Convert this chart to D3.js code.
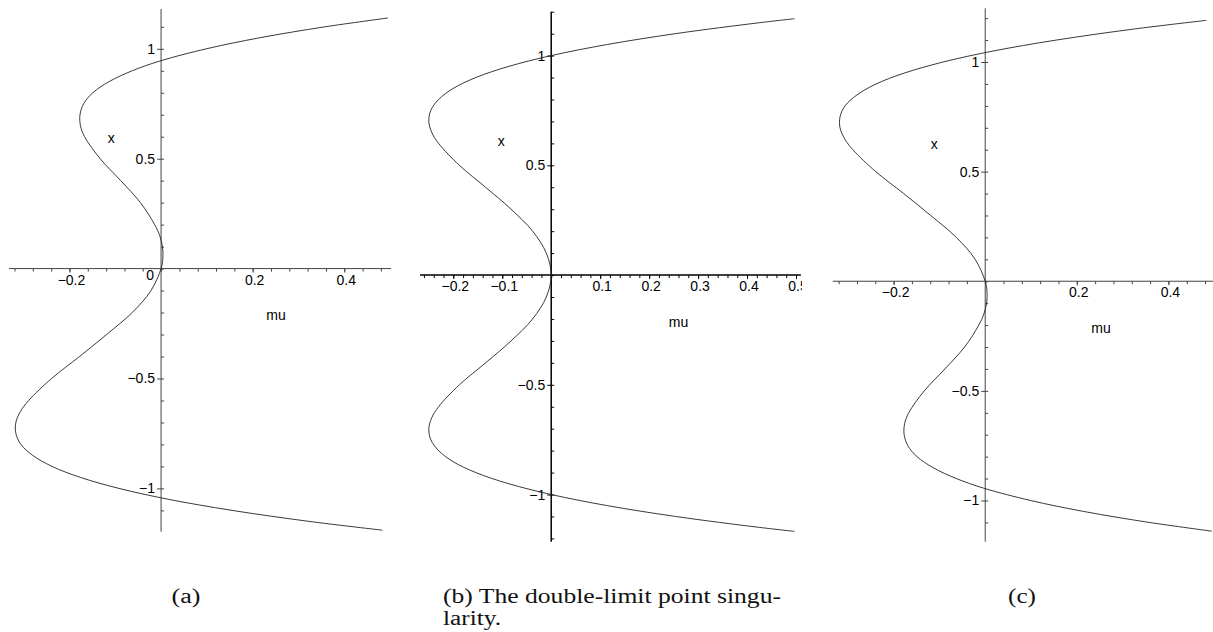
<!DOCTYPE html>
<html>
<head>
<meta charset="utf-8">
<script src="https://cdn.jsdelivr.net/npm/d3@7"></script>
<style>
  html, body { margin: 0; padding: 0; background: #fff; }
  svg { display: block; }
  .tick-label { font-family: "Liberation Sans", Arial, sans-serif; font-size: 14px; fill: #000; }
  .caption { font-family: "Liberation Serif", "Times New Roman", serif; font-size: 20px; fill: #111; }
</style>
</head>
<body>
<svg id="fig" width="1213" height="632"></svg>
<script>
// Branch of equilibria x against parameter mu, three unfoldings.
// (a) perturbed one way
const stateA = [-1.19, -1.15, -1.10, -1.05, -1.0, -0.95, -0.9, -0.85, -0.8, -0.75, -0.7, -0.65, -0.6, -0.5, -0.4, -0.3, -0.2, -0.1, 0, 0.05, 0.1, 0.15, 0.2, 0.3, 0.4, 0.5, 0.6, 0.65, 0.7, 0.75, 0.8, 0.85, 0.9, 0.944, 1.0, 1.05, 1.1, 1.14];
const muA    = [0.483, 0.323, 0.155, 0.017, -0.092, -0.176, -0.238, -0.280, -0.306, -0.317, -0.317, -0.307, -0.289, -0.239, -0.178, -0.119, -0.063, -0.022, 0, 0.004, 0.003, -0.003, -0.014, -0.045, -0.088, -0.133, -0.167, -0.176, -0.177, -0.169, -0.149, -0.114, -0.063, -0.003, 0.099, 0.215, 0.358, 0.495];

// (b) the double-limit point itself
const stateB = [-1.168, -1.15, -1.1, -1.05, -1.0, -0.95, -0.9, -0.85, -0.8, -0.75, -0.7, -0.65, -0.6, -0.5, -0.4, -0.3, -0.2, -0.1, 0, 0.1, 0.2, 0.3, 0.4, 0.5, 0.6, 0.65, 0.7, 0.75, 0.8, 0.85, 0.9, 0.95, 1.0, 1.05, 1.1, 1.15, 1.168];
const muB    = [0.497, 0.426, 0.254, 0.113, 0, -0.088, -0.154, -0.2005, -0.230, -0.246, -0.250, -0.244, -0.230, -0.1875, -0.134, -0.082, -0.038, -0.010, 0, -0.010, -0.038, -0.082, -0.134, -0.1875, -0.230, -0.244, -0.250, -0.246, -0.230, -0.2005, -0.154, -0.088, 0, 0.113, 0.254, 0.426, 0.497];

// (c) perturbed the other way
const stateC = [-1.14, -1.1, -1.05, -1.0, -0.944, -0.9, -0.85, -0.8, -0.75, -0.7, -0.65, -0.6, -0.5, -0.4, -0.3, -0.2, -0.15, -0.1, -0.05, 0, 0.1, 0.2, 0.3, 0.4, 0.5, 0.6, 0.65, 0.7, 0.75, 0.8, 0.85, 0.9, 0.95, 1.0, 1.05, 1.1, 1.15, 1.19];
const muC    = [0.495, 0.358, 0.215, 0.099, -0.003, -0.063, -0.114, -0.149, -0.169, -0.177, -0.176, -0.167, -0.133, -0.088, -0.045, -0.014, -0.003, 0.003, 0.004, 0, -0.022, -0.063, -0.119, -0.178, -0.239, -0.289, -0.307, -0.317, -0.317, -0.306, -0.280, -0.238, -0.176, -0.092, 0.017, 0.155, 0.323, 0.483];

// Tick labels
const muTicksA = [-0.2, 0.2, 0.4];
const muTicksB = [-0.2, -0.1, 0.1, 0.2, 0.3, 0.4, 0.5];
const muTicksC = [-0.2, 0.2, 0.4];
const xTicks   = [-1, -0.5, 0.5, 1];

const captionA = ["(a)"];
const captionB = ["(b) The double-limit point singu-", "larity."];
const captionC = ["(c)"];

const panels = [
  { state: stateA, mu: muA, muTicks: muTicksA, muDom: [-0.332, 0.502], muRange: [9, 391],
    xDom: [-1.197, 1.181], xRange: [531.7, 9], clip: [0, 402],
    minorMu: d3.range(-0.32, 0.50, 0.04), minorX: d3.range(-1.1, 1.15, 0.1),
    axisColor: "#444", axisWidth: 1, zeroLabel: true,
    xLabel: [-0.109, 0.594], muLabel: [0.251, -0.212] },
  { state: stateB, mu: muB, muTicks: muTicksB, muDom: [-0.268, 0.51], muRange: [420, 800.9],
    xDom: [-1.215, 1.2], xRange: [541.7, 11.7], clip: [405, 802],
    minorMu: d3.range(-0.26, 0.51, 0.02), minorX: d3.range(-1.2, 1.25, 0.1),
    axisColor: "#000", axisWidth: 1.5, zeroLabel: false,
    xLabel: [-0.102, 0.608], muLabel: [0.26, -0.218] },
  { state: stateC, mu: muC, muTicks: muTicksC, muDom: [-0.333, 0.5], muRange: [832.7, 1214.2],
    xDom: [-1.188, 1.245], xRange: [541.7, 8.3], clip: [810, 1213],
    minorMu: d3.range(-0.32, 0.50, 0.04), minorX: d3.range(-1.1, 1.25, 0.1),
    axisColor: "#444", axisWidth: 1, zeroLabel: false,
    xLabel: [-0.111, 0.622], muLabel: [0.253, -0.214] }
];

const svg = d3.select("#fig");
svg.append("rect").attr("width", 1213).attr("height", 632).attr("fill", "#fff");
const defs = svg.append("defs");
const fmt = v => d3.format("")(+v.toFixed(2));

panels.forEach((p, i) => {
  const xs = d3.scaleLinear().domain(p.muDom).range(p.muRange);
  const ys = d3.scaleLinear().domain(p.xDom).range(p.xRange);

  defs.append("clipPath").attr("id", "clip" + i)
    .append("rect").attr("x", p.clip[0]).attr("y", 0)
    .attr("width", p.clip[1] - p.clip[0]).attr("height", 632);

  const g = svg.append("g").attr("clip-path", `url(#clip${i})`);
  const x0 = xs(0), y0 = ys(0);

  // horizontal (mu) axis
  const gx = g.append("g").attr("transform", `translate(0,${y0})`);
  gx.append("line").attr("x1", p.muRange[0]).attr("x2", p.muRange[1])
    .attr("stroke", p.axisColor).attr("stroke-width", p.axisWidth);
  gx.append("g").call(d3.axisBottom(xs).tickValues(p.minorMu).tickSize(3).tickFormat(""))
    .call(s => s.select(".domain").remove())
    .call(s => s.selectAll("line").attr("stroke", p.axisColor));
  gx.append("g").call(d3.axisBottom(xs).tickValues(p.muTicks).tickSize(4).tickPadding(2).tickFormat(fmt))
    .call(s => s.select(".domain").remove())
    .call(s => s.selectAll("line").attr("stroke", p.axisColor))
    .call(s => s.selectAll("text").attr("class", "tick-label").attr("dx", "1.5"));

  // vertical (x) axis
  const gy = g.append("g").attr("transform", `translate(${x0},0)`);
  gy.append("line").attr("y1", p.xRange[0]).attr("y2", p.xRange[1])
    .attr("stroke", p.axisColor).attr("stroke-width", p.axisWidth);
  gy.append("g").call(d3.axisRight(ys).tickValues(p.minorX).tickSize(3).tickFormat(""))
    .call(s => s.select(".domain").remove())
    .call(s => s.selectAll("line").attr("stroke", p.axisColor));
  gy.append("g").call(d3.axisLeft(ys).tickValues(xTicks).tickSize(4).tickPadding(2).tickFormat(fmt))
    .call(s => s.select(".domain").remove())
    .call(s => s.selectAll("line").attr("stroke", p.axisColor))
    .call(s => s.selectAll("text").attr("class", "tick-label"));

  if (p.zeroLabel) {
    g.append("text").attr("class", "tick-label")
      .attr("x", x0 - 7).attr("y", y0 + 11.5).attr("text-anchor", "end").text("0");
  }

  // the branch
  const pts = p.state.map((s, k) => ({ s, m: p.mu[k] }));
  const line = d3.line().x(d => xs(d.m)).y(d => ys(d.s)).curve(d3.curveCatmullRom.alpha(0.5));
  g.append("path").attr("d", line(pts)).attr("fill", "none")
    .attr("stroke", "#222").attr("stroke-width", 0.9);

  // axis names
  g.append("text").attr("class", "tick-label").attr("text-anchor", "middle")
    .attr("x", xs(p.xLabel[0])).attr("y", ys(p.xLabel[1])).attr("dy", "0.32em").text("x");
  g.append("text").attr("class", "tick-label").attr("text-anchor", "middle")
    .attr("x", xs(p.muLabel[0])).attr("y", ys(p.muLabel[1])).attr("dy", "0.32em").text("mu");
});

// sub-figure captions
const cap = svg.append("g");
cap.append("text").attr("class", "caption").attr("x", 186).attr("y", 603)
  .attr("text-anchor", "middle").attr("textLength", 29).attr("lengthAdjust", "spacingAndGlyphs").text(captionA[0]);
cap.append("text").attr("class", "caption").attr("x", 443).attr("y", 603)
  .attr("textLength", 338).attr("lengthAdjust", "spacingAndGlyphs").text(captionB[0]);
cap.append("text").attr("class", "caption").attr("x", 443).attr("y", 625)
  .attr("textLength", 58).attr("lengthAdjust", "spacingAndGlyphs").text(captionB[1]);
cap.append("text").attr("class", "caption").attr("x", 1022).attr("y", 603)
  .attr("text-anchor", "middle").attr("textLength", 28).attr("lengthAdjust", "spacingAndGlyphs").text(captionC[0]);
</script>
</body>
</html>
